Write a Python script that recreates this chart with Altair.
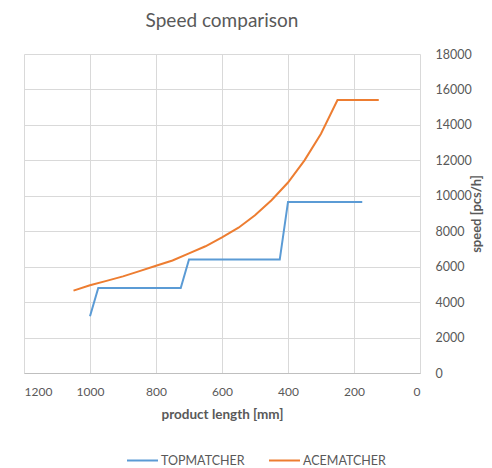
import altair as alt
import pandas as pd

top_len = [1000, 975, 725, 700, 425, 400, 175]
top_speed = [3200, 4800, 4800, 6400, 6400, 9650, 9650]

ace_len = [1050, 1000, 950, 900, 850, 800, 750, 700, 650, 600, 550, 500, 450, 400, 350, 300, 250, 125]
ace_speed = [4650, 4950, 5200, 5450, 5750, 6050, 6350, 6750, 7150, 7650, 8200, 8900, 9750, 10750, 12000, 13500, 15400, 15400]

series = ["TOPMATCHER", "ACEMATCHER"]
colors = ["#5B9BD5", "#ED7D31"]

df = pd.concat([
    pd.DataFrame({"len": top_len, "speed": top_speed, "series": series[0]}),
    pd.DataFrame({"len": ace_len, "speed": ace_speed, "series": series[1]}),
])

FONT = "Lato"
GRAY = "#595959"

chart = alt.Chart(df).mark_line(strokeWidth=2).encode(
    x=alt.X("len:Q", title="product length [mm]",
            scale=alt.Scale(domain=[0, 1200], reverse=True, nice=False, zero=False),
            axis=alt.Axis(values=list(range(0, 1201, 200)), grid=True, tickSize=0, format="d",
                          labelPadding=13, titlePadding=10, domainColor="#bfbfbf",
                          labelFontSize=12, titleFontSize=13.5, titleFontWeight="bold",
                          labelColor=GRAY, titleColor=GRAY, labelFont=FONT, titleFont=FONT,
                          gridColor="#d9d9d9")),
    y=alt.Y("speed:Q", title="speed [pcs/h]",
            scale=alt.Scale(domain=[0, 18000], nice=False),
            axis=alt.Axis(orient="right", values=list(range(0, 18001, 2000)), grid=True,
                          tickSize=0, domain=False, labelPadding=15, titlePadding=12, format="d",
                          labelFontSize=12.5, titleFontSize=13, titleFontWeight="bold",
                          labelColor=GRAY, titleColor=GRAY, labelFont=FONT, titleFont=FONT,
                          titleAngle=270, gridColor="#d9d9d9")),
    color=alt.Color("series:N", scale=alt.Scale(domain=series, range=colors),
                    legend=alt.Legend(title=None, orient="none", direction="horizontal",
                                      legendX=102, legendY=390, symbolType="stroke",
                                      symbolSize=960, symbolStrokeWidth=2, padding=0,
                                      labelFontSize=12.5, labelColor=GRAY, labelFont=FONT,
                                      columnPadding=20, labelOffset=2)),
    order=alt.Order("len:Q", sort="descending"),
).properties(
    width=396, height=319,
    title=alt.TitleParams("Speed comparison", fontSize=19, font=FONT, fontWeight="normal",
                          color=GRAY, offset=17),
    autosize=alt.AutoSizeParams(type="none"),
    padding={"left": 16, "top": 46, "right": 64, "bottom": 95},
).configure_view(stroke=None)

chart.save("out.html", embed_options={"renderer": "svg", "actions": False})
